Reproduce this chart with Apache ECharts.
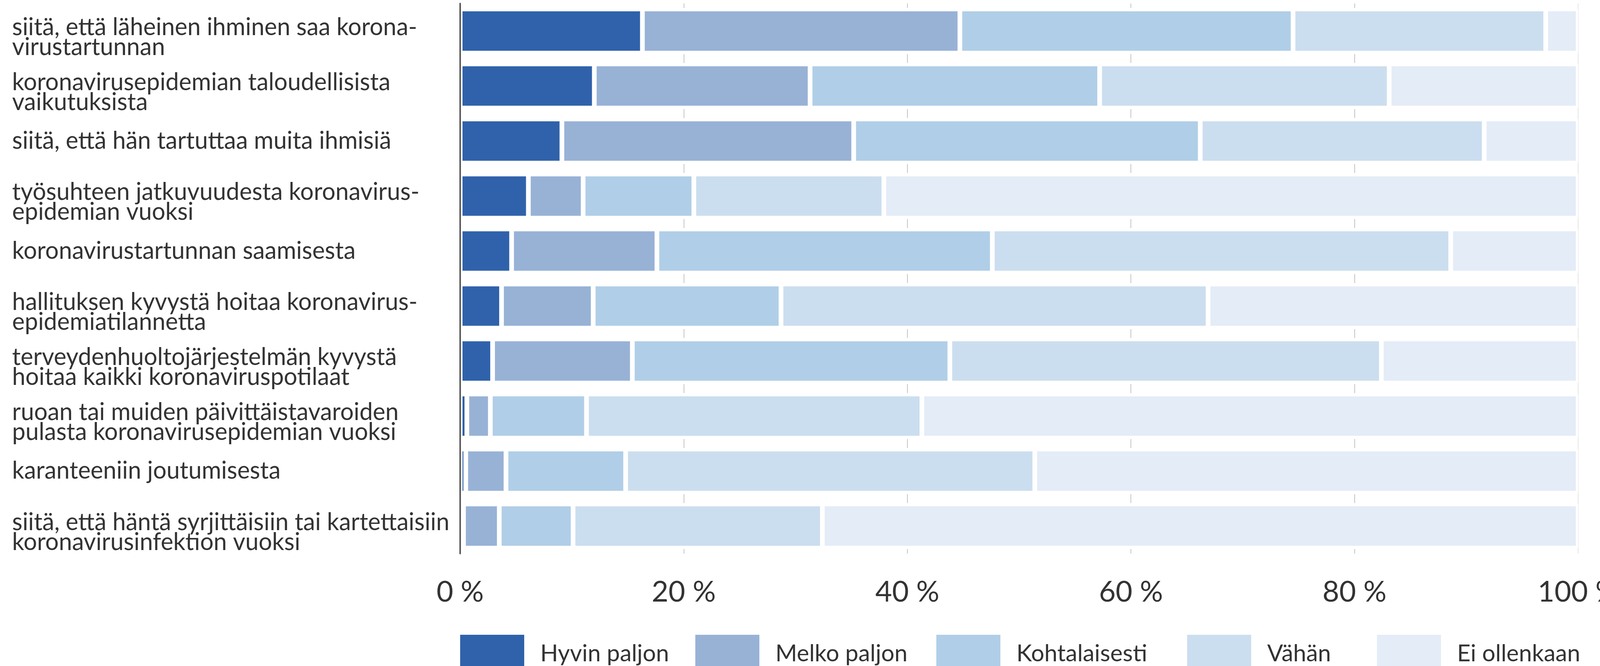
<!DOCTYPE html>
<html>
<head>
<meta charset="utf-8">
<script src="https://cdn.jsdelivr.net/npm/echarts@6/dist/echarts.min.js"></script>
<style>
html,body{margin:0;padding:0;background:#fff;overflow:hidden;}
#chart{width:4193px;height:1706px;}
</style>
</head>
<body>
<div id="chart"></div>
<script>
var categories = [
  "siitä, että läheinen ihminen saa korona-\nvirustartunnan",
  "koronavirusepidemian taloudellisista\nvaikutuksista",
  "siitä, että hän tartuttaa muita ihmisiä",
  "työsuhteen jatkuvuudesta koronavirus-\nepidemian vuoksi",
  "koronavirustartunnan saamisesta",
  "hallituksen kyvystä hoitaa koronavirus-\nepidemiatilannetta",
  "terveydenhuoltojärjestelmän kyvystä\nhoitaa kaikki koronaviruspotilaat",
  "ruoan tai muiden päivittäistavaroiden\npulasta koronavirusepidemian vuoksi",
  "karanteeniin joutumisesta",
  "siitä, että häntä syrjittäisiin tai kartettaisiin\nkoronavirusinfektion vuoksi"
];
var seriesNames = ["Hyvin paljon", "Melko paljon", "Kohtalaisesti", "Vähän", "Ei ollenkaan"];
var hyvinPaljon  = [16.3, 12.0,  9.1,  6.1,  4.6,  3.7,  2.9,  0.6,  0.5,  0.3];
var melkoPaljon  = [28.4, 19.3, 26.1,  4.9, 13.0,  8.2, 12.5,  2.1,  3.6,  3.2];
var kohtalaisesti= [29.8, 25.9, 31.0,  9.9, 30.0, 16.8, 28.4,  8.6, 10.7,  6.6];
var vahan        = [22.6, 25.9, 25.4, 17.0, 41.0, 38.2, 38.6, 30.0, 36.6, 22.3];
var eiOllenkaan  = [ 2.9, 16.9,  8.4, 62.1, 11.4, 33.1, 17.6, 58.7, 48.6, 67.6];
var xTicks = [0, 20, 40, 60, 80, 100];
var colors = ["#2f62ab", "#98b2d6", "#b0cee7", "#cbdeef", "#e4ecf7"];

var FONT = "Lato";
var TEXT = "#333333";
var values = [hyvinPaljon, melkoPaljon, kohtalaisesti, vahan, eiOllenkaan];

var chart = echarts.init(document.getElementById('chart'), null, {renderer: 'canvas'});

var series = seriesNames.map(function (name, i) {
  return {
    name: name,
    type: 'bar',
    stack: 'total',
    barWidth: 113,
    data: values[i],
    itemStyle: {color: colors[i], borderColor: '#ffffff', borderWidth: 6},
    emphasis: {disabled: true},
    animation: false
  };
});

var legendLefts = [1176, 1778, 2395, 3037, 3523];
var legends = seriesNames.map(function (name, i) {
  return {
    data: [name],
    left: legendLefts[i],
    top: 1624,
    icon: 'rect',
    itemWidth: 166,
    itemHeight: 100,
    selectedMode: false,
    padding: 0,
    formatter: function (n) { return '{a|' + n + '}'; },
    textStyle: {
      fontFamily: FONT, fontSize: 60, color: TEXT,
      rich: {a: {fontFamily: FONT, fontSize: 60, color: TEXT, padding: [0, 0, 0, 35]}}
    }
  };
});

chart.setOption({
  animation: false,
  color: colors,
  legend: legends,
  grid: {left: 1178, top: 9, width: 2862, height: 1409, containLabel: false},
  xAxis: [{
    type: 'value',
    min: 0, max: 100, interval: 20,
    axisLine: {show: false},
    axisTick: {show: false},
    splitLine: {show: true, lineStyle: {color: '#c4c4c4', width: 2, type: [22.8, 118.1], dashOffset: 11.4}},
    axisLabel: {
      fontFamily: FONT, fontSize: 74, color: TEXT, margin: 99, verticalAlign: 'middle',
      formatter: function (v) { return v + ' %'; }
    }
  }, {
    type: 'value',
    position: 'bottom',
    min: 0, max: 100, interval: 100,
    axisLine: {show: false},
    axisTick: {show: false},
    axisLabel: {show: false},
    splitLine: {show: true, lineStyle: {color: '#e4e4e4', width: 2}}
  }],
  yAxis: {
    type: 'category',
    inverse: true,
    data: categories,
    z: 5,
    axisLine: {show: true, lineStyle: {color: '#595959', width: 4}},
    axisTick: {show: false},
    axisLabel: {
      align: 'left',
      margin: 1147,
      formatter: function (v) {
        var lines = v.split('\n');
        if (lines.length > 1) {
          return '{s| }\n{t|' + lines.join('}\n{t|') + '}';
        }
        return '{t|' + v + '}';
      },
      rich: {
        t: {fontFamily: FONT, fontSize: 61, lineHeight: 51, color: TEXT},
        s: {fontFamily: FONT, fontSize: 10, lineHeight: 32}
      }
    }
  },
  series: series
});
</script>
</body>
</html>
